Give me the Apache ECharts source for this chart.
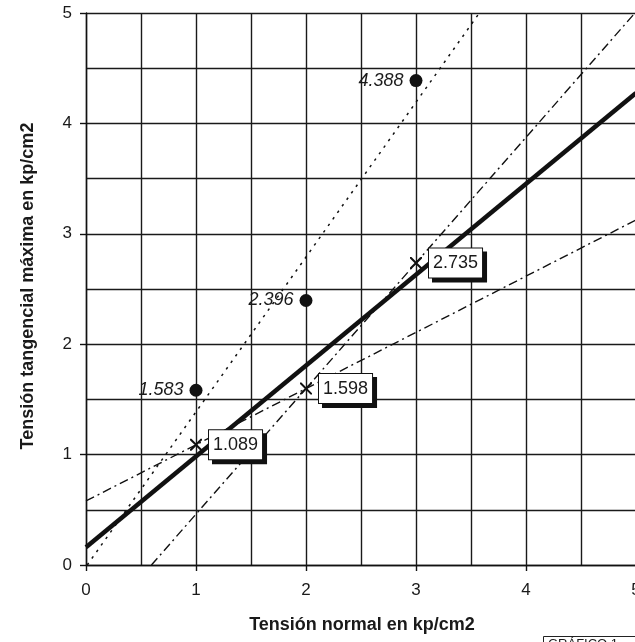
<!DOCTYPE html>
<html>
<head>
<meta charset="utf-8">
<script src="https://cdn.jsdelivr.net/npm/echarts@6/dist/echarts.min.js"></script>
<style>html,body{margin:0;padding:0;background:#fff;}#c{width:635px;height:642px;}</style>
</head>
<body>
<div id="c"></div>
<script>
// Data
var xTicks = [0, 1, 2, 3, 4, 5];
var dotX = [1, 2, 3];
var dotY = [1.583, 2.396, 4.388];
var crossX = [1, 2, 3];
var crossY = [1.089, 1.598, 2.735];
// Line endpoints (x, y)
var regLine = [[0, 0.161], [5, 4.276]];
var dotLine = [[0.011, 0], [3.576, 5]];
var shallowLine = [[0, 0.58], [5, 3.125]];
var steepLine = [[0.595, 0], [4.99, 5]];

var FONT = 'Liberation Sans, Arial, sans-serif';
var crossPath = 'path://M0,0 L1.2,0 L10,8.8 L10,10 L8.8,10 L0,1.2 Z M8.8,0 L10,0 L10,1.2 L1.2,10 L0,10 L0,8.8 Z';

function pairs(xs, ys) { return xs.map(function (x, i) { return [x, ys[i]]; }); }

var chart = echarts.init(document.getElementById('c'), null, {renderer: 'canvas'});
chart.setOption({
  animation: false,
  backgroundColor: '#fff',
  grid: {left: 86, width: 550, top: 13, height: 552, containLabel: false, outerBoundsMode: 'none'},
  xAxis: {
    type: 'value', min: 0, max: 5, interval: 1,
    axisLine: {show: true, onZero: false, lineStyle: {color: '#111', width: 1.4}},
    axisTick: {show: true, length: 6, lineStyle: {color: '#111', width: 1.4}},
    axisLabel: {fontFamily: FONT, fontSize: 17, color: '#1a1a1a', margin: 17},
    splitLine: {show: true, lineStyle: {color: '#1a1a1a', width: 1.4}},
    minorTick: {show: false, splitNumber: 2},
    minorSplitLine: {show: true, lineStyle: {color: '#1a1a1a', width: 1.4}}
  },
  yAxis: {
    type: 'value', min: 0, max: 5, interval: 1,
    axisLine: {show: true, onZero: false, lineStyle: {color: '#111', width: 1.4}},
    axisTick: {show: true, length: 6, lineStyle: {color: '#111', width: 1.4}},
    axisLabel: {fontFamily: FONT, fontSize: 17, color: '#1a1a1a', margin: 14},
    splitLine: {show: true, lineStyle: {color: '#1a1a1a', width: 1.4}},
    minorTick: {show: false, splitNumber: 2},
    minorSplitLine: {show: true, lineStyle: {color: '#1a1a1a', width: 1.4}}
  },
  graphic: [
    {type: 'text', x: 28, y: 286, rotation: Math.PI / 2,
     style: {text: 'Tensión tangencial máxima en kp/cm2', font: 'bold 18px ' + FONT, fill: '#1a1a1a', textAlign: 'center', textVerticalAlign: 'middle'}},
    {type: 'text', x: 362, y: 625,
     style: {text: 'Tensión normal en kp/cm2', font: 'bold 18px ' + FONT, fill: '#1a1a1a', textAlign: 'center', textVerticalAlign: 'middle'}},
    {type: 'rect', shape: {x: 543.5, y: 636.5, width: 100, height: 20},
     style: {fill: '#fff', stroke: '#222', lineWidth: 1}},
    {type: 'text', x: 548, y: 638,
     style: {text: 'GRÁFICO 1', font: '13px ' + FONT, fill: '#1a1a1a', textAlign: 'left', textVerticalAlign: 'top'}}
  ],
  series: [
    {type: 'line', data: dotLine, symbol: 'none', lineStyle: {color: '#111', width: 1.5, type: [2.5, 5.5]}, z: 3},
    {type: 'line', data: shallowLine, symbol: 'none', lineStyle: {color: '#111', width: 1.4, type: [9, 4, 2, 4]}, z: 3},
    {type: 'line', data: steepLine, symbol: 'none', lineStyle: {color: '#111', width: 1.4, type: [9, 4, 2, 4]}, z: 3},
    {type: 'line', data: regLine, symbol: 'none', lineStyle: {color: '#111', width: 4.5}, z: 4},
    {type: 'scatter', data: pairs(dotX, dotY), symbol: 'circle', symbolSize: 13,
     itemStyle: {color: '#111', opacity: 1}, z: 5,
     label: {show: true, position: 'left', distance: 6, fontFamily: FONT, fontStyle: 'italic', fontSize: 18, color: '#1a1a1a',
       formatter: function (p) { return String(p.value[1]); }}},
    {type: 'scatter', data: pairs(crossX, crossY), symbol: crossPath, symbolSize: 12,
     itemStyle: {color: '#111', opacity: 1}, z: 6,
     label: {show: true, position: 'right', distance: 7, fontFamily: FONT, fontSize: 18, color: '#1a1a1a',
       backgroundColor: '#fff', borderColor: '#111', borderWidth: 1, padding: [6, 4, 5, 4],
       shadowColor: '#111', shadowOffsetX: 4, shadowOffsetY: 4, shadowBlur: 0,
       formatter: function (p) { return String(p.value[1]); }}}
  ]
});
</script>
</body>
</html>
